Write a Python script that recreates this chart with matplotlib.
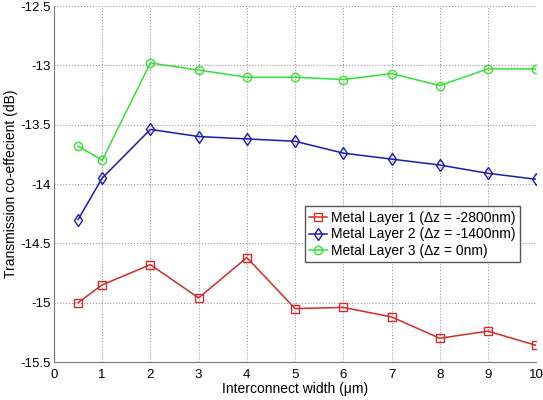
import matplotlib
matplotlib.use('Agg')
import matplotlib.pyplot as plt

# widths (um) and transmission values (dB)
widths = [0.5, 1, 2, 3, 4, 5, 6, 7, 8, 9, 10]
layer1 = [-15.00, -14.85, -14.68, -14.96, -14.62, -15.05, -15.04, -15.12, -15.30, -15.24, -15.36]
layer2 = [-14.30, -13.95, -13.54, -13.60, -13.62, -13.64, -13.74, -13.79, -13.84, -13.91, -13.96]
layer3 = [-13.68, -13.80, -12.98, -13.04, -13.10, -13.10, -13.12, -13.07, -13.17, -13.03, -13.03]
labels = ['Metal Layer 1 (\u0394z = -2800nm)',
          'Metal Layer 2 (\u0394z = -1400nm)',
          'Metal Layer 3 (\u0394z = 0nm)']

plt.rcParams['font.family'] = ['Liberation Sans', 'DejaVu Sans']

fig = plt.figure(figsize=(5.43, 4.0), dpi=100)
ax = fig.add_axes([0.0994, 0.095, 0.888, 0.89])

ax.plot(widths, layer1, color='#d42a2a', marker='s', mfc='none', ms=5.5, lw=1.1, label=labels[0])
ax.plot(widths, layer2, color='#1a1ab4', marker='d', mfc='none', ms=6, lw=1.1, label=labels[1])
ax.plot(widths, layer3, color='#33e033', marker='o', mfc='none', ms=6, lw=1.1, label=labels[2])

ax.set_xlim(0, 10)
ax.set_ylim(-15.5, -12.5)
ax.set_xticks(range(0, 11))
ax.set_yticks([-15.5, -15, -14.5, -14, -13.5, -13, -12.5])
ax.set_yticklabels(['-15.5', '-15', '-14.5', '-14', '-13.5', '-13', '-12.5'])
ax.grid(True, linestyle=':', color='#999999', lw=0.8)
for s in ['top', 'right']:
    ax.spines[s].set_visible(False)
for s in ['left', 'bottom']:
    ax.spines[s].set_color('#777777')
ax.tick_params(labelsize=9.5, length=0, pad=2)
ax.tick_params(axis='x', pad=5)

ax.set_xlabel('Interconnect width (\u03bcm)', fontsize=10, labelpad=1)
ax.set_ylabel('Transmission co-effecient (dB)', fontsize=10, labelpad=2)

leg = ax.legend(loc='upper left', bbox_to_anchor=(0.52, 0.437), fontsize=10,
                fancybox=False, framealpha=1, edgecolor='#555555',
                handlelength=1.3, handletextpad=0.3, borderpad=0.3, labelspacing=0.2,
                borderaxespad=0)

fig.savefig('out.png', dpi=100)
